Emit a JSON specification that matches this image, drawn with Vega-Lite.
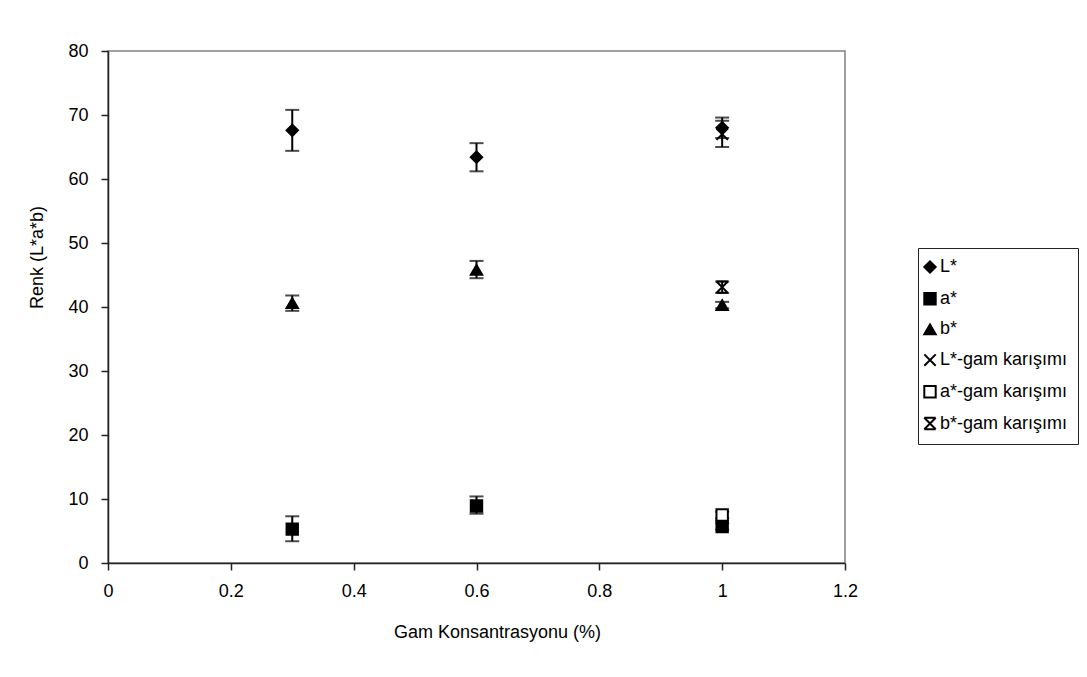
{
  "$schema": "https://vega.github.io/schema/vega-lite/v6.json",
  "autosize": {"type": "none"},
  "width": 737,
  "height": 512,
  "padding": {"left": 108, "top": 51, "right": 242, "bottom": 114},
  "background": "white",
  "config": {
    "font": "Liberation Sans",
    "view": {"stroke": "#808080", "strokeWidth": 1.5},
    "axis": {
      "grid": false,
      "domainColor": "#222222",
      "domainWidth": 1.5,
      "tickColor": "#222222",
      "tickWidth": 1.5,
      "tickSize": 7,
      "labelFlush": false,
      "labelFont": "Liberation Sans",
      "labelFontSize": 18,
      "labelColor": "black",
      "titleFont": "Liberation Sans",
      "titleFontSize": 18,
      "titleFontWeight": "normal",
      "titleColor": "black"
    },
    "legend": {
      "orient": "none",
      "legendX": 810,
      "legendY": 197,
      "strokeColor": "#222222",
      "strokeWidth": 1,
      "padding": 10,
      "rowPadding": 11.7,
      "symbolOffset": -7,
      "labelOffset": 1,
      "labelFont": "Liberation Sans",
      "labelFontSize": 18,
      "labelColor": "black",
      "symbolSize": 130,
      "symbolStrokeWidth": 2,
      "fillColor": "white"
    }
  },
  "data": {
    "values": [
      {"series": "L*", "x": 0.3, "y": 67.6, "lo": 64.4, "hi": 70.8},
      {"series": "a*", "x": 0.3, "y": 5.3, "lo": 3.4, "hi": 7.3},
      {"series": "b*", "x": 0.3, "y": 40.6, "lo": 39.4, "hi": 41.8},
      {"series": "L*", "x": 0.6, "y": 63.4, "lo": 61.2, "hi": 65.6},
      {"series": "a*", "x": 0.6, "y": 8.9, "lo": 7.7, "hi": 10.4},
      {"series": "b*", "x": 0.6, "y": 45.8, "lo": 44.5, "hi": 47.2},
      {"series": "L*", "x": 1.0, "y": 68.0, "lo": 66.4, "hi": 69.6},
      {"series": "a*", "x": 1.0, "y": 5.7, "lo": 5.2, "hi": 6.2},
      {"series": "b*", "x": 1.0, "y": 40.3, "lo": 39.8, "hi": 40.8},
      {"series": "L*-gam karışımı", "x": 1.0, "y": 67.0, "lo": 65.0, "hi": 69.1},
      {"series": "a*-gam karışımı", "x": 1.0, "y": 7.5, "lo": 7.0, "hi": 8.0},
      {"series": "b*-gam karışımı", "x": 1.0, "y": 43.1, "lo": 42.2, "hi": 44.0}
    ]
  },
  "encoding": {
    "x": {
      "field": "x",
      "type": "quantitative",
      "scale": {"domain": [0, 1.2], "nice": false, "zero": false},
      "axis": {
        "title": "Gam Konsantrasyonu (%)",
        "values": [0, 0.2, 0.4, 0.6, 0.8, 1, 1.2],
        "format": "~g",
        "labelPadding": 12,
        "titleX": 389,
        "titleY": 69,
        "titleBaseline": "middle",
        "titleAlign": "center"
      }
    },
    "y": {
      "field": "y",
      "type": "quantitative",
      "scale": {"domain": [0, 80], "nice": false},
      "axis": {
        "title": "Renk (L*a*b)",
        "values": [0, 10, 20, 30, 40, 50, 60, 70, 80],
        "labelPadding": 13,
        "titleX": -71,
        "titleY": 206,
        "titleAngle": -90,
        "titleBaseline": "middle",
        "titleAlign": "center"
      }
    }
  },
  "layer": [
    {
      "mark": {"type": "rule", "color": "black", "strokeWidth": 2},
      "encoding": {"y": {"field": "lo", "type": "quantitative"}, "y2": {"field": "hi"}}
    },
    {
      "mark": {"type": "tick", "orient": "horizontal", "color": "black", "size": 14, "thickness": 2},
      "encoding": {"y": {"field": "lo", "type": "quantitative"}}
    },
    {
      "mark": {"type": "tick", "orient": "horizontal", "color": "black", "size": 14, "thickness": 2},
      "encoding": {"y": {"field": "hi", "type": "quantitative"}}
    },
    {
      "mark": {"type": "point", "filled": true, "strokeWidth": 2, "opacity": 1},
      "encoding": {
        "shape": {
          "field": "series",
          "type": "nominal",
          "scale": {
            "domain": ["L*", "a*", "b*", "L*-gam karışımı", "a*-gam karışımı", "b*-gam karışımı"],
            "range": ["diamond", "square", "triangle-up", "M-1,-1L1,1M-1,1L1,-1", "square", "M-1,-1H1M-1,1H1M-1,-1L1,1M1,-1L-1,1"]
          },
          "legend": {"title": null}
        },
        "fill": {
          "field": "series",
          "type": "nominal",
          "scale": {
            "domain": ["L*", "a*", "b*", "L*-gam karışımı", "a*-gam karışımı", "b*-gam karışımı"],
            "range": ["black", "black", "black", "transparent", "white", "transparent"]
          },
          "legend": {"title": null}
        },
        "stroke": {
          "field": "series",
          "type": "nominal",
          "scale": {
            "domain": ["L*", "a*", "b*", "L*-gam karışımı", "a*-gam karışımı", "b*-gam karışımı"],
            "range": ["black", "black", "black", "black", "black", "black"]
          },
          "legend": {"title": null}
        },
        "size": {"value": 130}
      }
    }
  ]
}
